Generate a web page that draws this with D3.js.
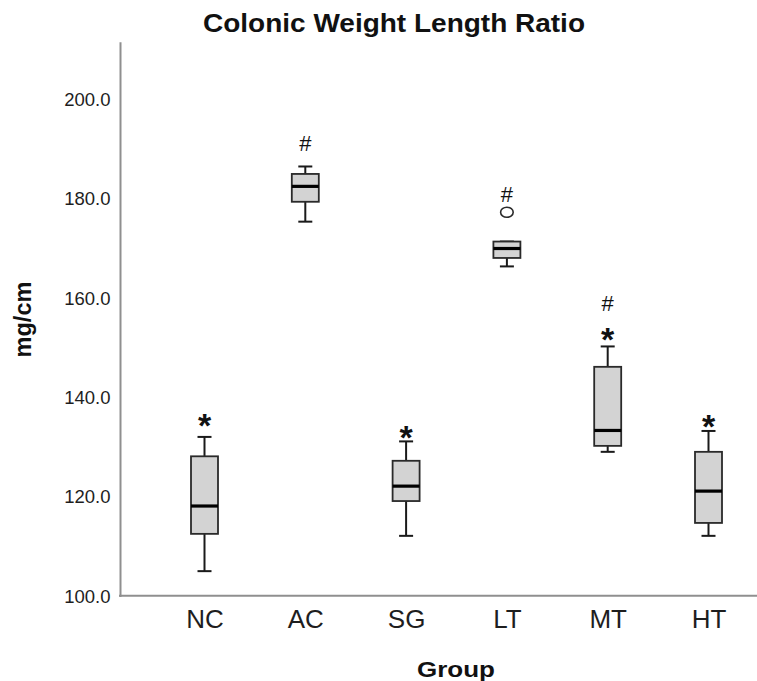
<!DOCTYPE html>
<html>
<head>
<meta charset="utf-8">
<script src="https://cdn.jsdelivr.net/npm/d3@7"></script>
<style>
  html, body { margin: 0; padding: 0; background: #fff; }
  svg { display: block; font-family: "Liberation Sans", Arial, sans-serif; }
</style>
</head>
<body>
<svg id="chart" width="757" height="681"></svg>
<script>
// ---- data ----
const categories = ["NC", "AC", "SG", "LT", "MT", "HT"];
const whiskerLow  = [105.1, 175.4, 112.2, 166.4, 129.1, 112.2];
const q1          = [112.6, 179.4, 119.2, 168.1, 130.3, 114.8];
const medians     = [118.2, 182.5, 122.2, 170.0, 133.4, 121.2];
const q3          = [128.2, 185.0, 127.3, 171.4, 146.2, 129.1];
const whiskerHigh = [132.1, 186.5, 131.2, 171.4, 150.3, 133.3];
const outlierCats = ["LT"];
const outlierVals = [177.3];
const markCats    = ["NC", "AC", "SG", "LT", "MT", "MT", "HT"];
const markSymbols = ["*", "#", "*", "#", "#", "*", "*"];
const markVals    = [136.1, 191.1, 133.5, 181.0, 159.0, 153.3, 135.9];
const yTicks      = [100, 120, 140, 160, 180, 200];
const title  = "Colonic Weight Length Ratio";
const xTitle = "Group";
const yTitle = "mg/cm";

// ---- layout ----
const svg = d3.select("#chart");
const axisX0 = 120, axisXEnd = 757;
const yMin = 100, yMax = 211.6;
const y = d3.scaleLinear().domain([yMin, yMax]).range([596.5, 41.7]);
const x = d3.scalePoint().domain(categories).range([204.5, 708.5]);
const boxW = 27, capW = 14;
const axisColor = "#8f8f8f";

const boxes = categories.map((c, i) => ({
  cat: c, lo: whiskerLow[i], q1: q1[i], med: medians[i], q3: q3[i], hi: whiskerHigh[i]
}));

// y axis
const yAxis = d3.axisLeft(y)
  .tickValues(yTicks)
  .tickFormat(d3.format(".1f"))
  .tickSize(0)
  .tickSizeOuter(0)
  .tickPadding(9.5);
const gy = svg.append("g").attr("transform", `translate(${axisX0},0)`).call(yAxis);
gy.select(".domain").attr("stroke", axisColor).attr("stroke-width", 2);
gy.selectAll(".tick text")
  .attr("font-family", "Liberation Sans, Arial, sans-serif")
  .attr("font-size", 18.5)
  .attr("fill", "#1e1e1e");

// x axis
const xAxis = d3.axisBottom(x).tickSize(0).tickSizeOuter(0).tickPadding(0);
const gx = svg.append("g").attr("transform", `translate(0,${y(yMin) - 0.8})`).call(xAxis);
gx.select(".domain").remove();
gx.append("line")
  .attr("x1", axisX0 - 1).attr("x2", axisXEnd)
  .attr("y1", 0).attr("y2", 0)
  .attr("stroke", axisColor).attr("stroke-width", 2);
gx.selectAll(".tick text")
  .attr("font-family", "Liberation Sans, Arial, sans-serif")
  .attr("font-size", 26)
  .attr("fill", "#1e1e1e")
  .attr("dy", null)
  .attr("y", 32.5);

// boxes
const gb = svg.append("g");
const b = gb.selectAll("g.box").data(boxes).join("g").attr("class", "box");
const lineCol = "#1a1a1a";
// whiskers
b.append("line")
  .attr("x1", d => x(d.cat)).attr("x2", d => x(d.cat))
  .attr("y1", d => y(d.hi)).attr("y2", d => y(d.q3))
  .attr("stroke", lineCol).attr("stroke-width", 2);
b.append("line")
  .attr("x1", d => x(d.cat)).attr("x2", d => x(d.cat))
  .attr("y1", d => y(d.q1)).attr("y2", d => y(d.lo))
  .attr("stroke", lineCol).attr("stroke-width", 2);
b.append("line")
  .attr("x1", d => x(d.cat) - capW / 2).attr("x2", d => x(d.cat) + capW / 2)
  .attr("y1", d => y(d.hi)).attr("y2", d => y(d.hi))
  .attr("stroke", lineCol).attr("stroke-width", 2);
b.append("line")
  .attr("x1", d => x(d.cat) - capW / 2).attr("x2", d => x(d.cat) + capW / 2)
  .attr("y1", d => y(d.lo)).attr("y2", d => y(d.lo))
  .attr("stroke", lineCol).attr("stroke-width", 2);
// box
b.append("rect")
  .attr("x", d => x(d.cat) - boxW / 2)
  .attr("width", boxW)
  .attr("y", d => y(d.q3))
  .attr("height", d => y(d.q1) - y(d.q3))
  .attr("fill", "#d3d3d3")
  .attr("stroke", "#2a2a2a").attr("stroke-width", 1.8);
// median
b.append("line")
  .attr("x1", d => x(d.cat) - boxW / 2).attr("x2", d => x(d.cat) + boxW / 2)
  .attr("y1", d => y(d.med)).attr("y2", d => y(d.med))
  .attr("stroke", "#000").attr("stroke-width", 3.2);

// outliers
svg.append("g").selectAll("ellipse")
  .data(outlierCats.map((c, i) => ({ cat: c, v: outlierVals[i] })))
  .join("ellipse")
  .attr("cx", d => x(d.cat))
  .attr("cy", d => y(d.v))
  .attr("rx", 6.3).attr("ry", 5)
  .attr("fill", "#fff")
  .attr("stroke", "#2a2a2a").attr("stroke-width", 1.6);

// significance markers
const marks = markCats.map((c, i) => ({ cat: c, s: markSymbols[i], v: markVals[i] }));
svg.append("g").selectAll("text")
  .data(marks)
  .join("text")
  .attr("x", d => x(d.cat))
  .attr("y", d => y(d.v) + (d.s === "*" ? 19.5 : 7.8))
  .attr("text-anchor", "middle")
  .attr("font-size", d => d.s === "*" ? 34 : 22)
  .attr("font-weight", d => d.s === "*" ? "bold" : "normal")
  .attr("fill", "#111")
  .text(d => d.s);

// titles
svg.append("text")
  .attr("x", 394).attr("y", 31.5)
  .attr("text-anchor", "middle")
  .attr("font-size", 25.5).attr("font-weight", "bold")
  .attr("fill", "#111")
  .attr("textLength", 382).attr("lengthAdjust", "spacingAndGlyphs")
  .text(title);

svg.append("text")
  .attr("x", 456).attr("y", 677)
  .attr("text-anchor", "middle")
  .attr("font-size", 21.5).attr("font-weight", "bold")
  .attr("fill", "#111")
  .attr("textLength", 78).attr("lengthAdjust", "spacingAndGlyphs")
  .text(xTitle);

svg.append("text")
  .attr("transform", "translate(31,319.5) rotate(-90)")
  .attr("text-anchor", "middle")
  .attr("font-size", 23.5).attr("font-weight", "bold")
  .attr("fill", "#111")
  .text(yTitle);
</script>
</body>
</html>
